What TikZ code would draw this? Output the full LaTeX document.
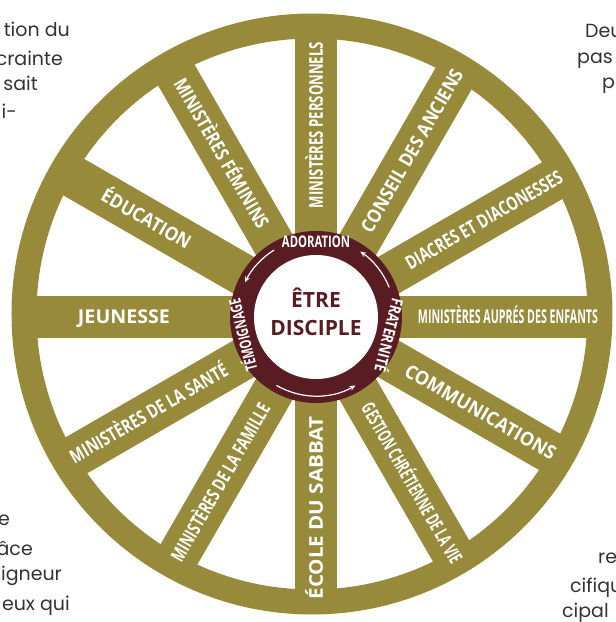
\documentclass[tikz,border=0pt]{standalone}
\usepackage{fontspec}
\usepackage{graphicx}
\usetikzlibrary{arrows.meta}
\setmainfont{Poppins}
\newfontfamily\wheelfont{Open Sans}
\definecolor{wheelgold}{HTML}{978A3B}
\definecolor{hubred}{HTML}{5A1C23}
\definecolor{pagegray}{HTML}{333333}
% white text squeezed to the length of its spoke
\newcommand{\spoketext}[2]{\resizebox{#1pt}{\height}{\wheelfont\bfseries\fontsize{19}{22}\selectfont #2}}
\newcommand{\ringtext}[2]{\resizebox{#1pt}{\height}{\wheelfont\bfseries\fontsize{16}{18}\selectfont #2}}
\begin{document}
\begin{tikzpicture}[x=1pt, y=1pt,
    spoke/.style={draw=wheelgold, line width=42pt},
    spokelabel/.style={text=white, inner sep=0pt, text height=13.6pt, text depth=0pt},
    ringlabel/.style={text=white, inner sep=0pt, text height=11.4pt, text depth=0pt},
    cyclearrow/.style={draw=white, line width=1.2pt, -{Stealth[length=6pt, width=5pt]}},
    pagetext/.style={text=pagegray, inner sep=0pt, font=\fontsize{19}{22}\selectfont}]
        \useasboundingbox (-316,-305) rectangle (300,317);

        % Rim of the wheel
        \draw[draw=wheelgold, line width=25pt] (-4,3) circle (288);

        % Spokes
        \draw[spoke] (0:285) -- (180:285);
        \draw[spoke] (30:285) -- (210:285);
        \draw[spoke] (60:285) -- (240:285);
        \draw[spoke] (90:285) -- (270:285);
        \draw[spoke] (120:285) -- (300:285);
        \draw[spoke] (150:285) -- (330:285);

        % Spoke labels
        \node[spokelabel, rotate=90] (personnels) at (90:192) {\spoketext{166}{MINISTÈRES PERSONNELS}};
        \node[spokelabel, rotate=60] (anciens) at (60:192) {\spoketext{185}{CONSEIL DES ANCIENS}};
        \node[spokelabel, rotate=30] (diacres) at (30:194) {\spoketext{178}{DIACRES ET DIACONESSES}};
        \node[spokelabel] (enfants) at (0:192) {\spoketext{180}{MINISTÈRES AUPRÉS DES ENFANTS}};
        \node[spokelabel, rotate=-30] (communications) at (-30:190) {\spoketext{171}{COMMUNICATIONS}};
        \node[spokelabel, rotate=-60] (gestion) at (-60:192) {\spoketext{182}{GESTION CHRÉTIENNE DE LA VIE}};
        \node[spokelabel, rotate=90] (sabbat) at (-90:191) {\spoketext{183}{ÉCOLE DU SABBAT}};
        \node[spokelabel, rotate=60] (famille) at (240:191) {\spoketext{179}{MINISTÈRES DE LA FAMILLE}};
        \node[spokelabel, rotate=30] (sante) at (210:193) {\spoketext{179}{MINISTÈRES DE LA SANTÉ}};
        \node[spokelabel] (jeunesse) at (180:192) {\spoketext{92}{JEUNESSE}};
        \node[spokelabel, rotate=-30] (education) at (150:196) {\spoketext{100}{ÉDUCATION}};
        \node[spokelabel, rotate=-60] (feminins) at (120:189) {\spoketext{170}{MINISTÈRES FÉMININS}};

        % Hub
        \node[circle, fill=hubred, minimum size=172pt, inner sep=0pt] (hub) at (0,0) {};
        \node[circle, fill=white, minimum size=124pt, inner sep=0pt] (core) at (0,0) {};
        \node[anchor=base, text=hubred, font=\wheelfont\bfseries\fontsize{21}{24}\selectfont] (etre) at (0,10) {ÊTRE};
        \node[anchor=base, text=hubred, font=\wheelfont\bfseries\fontsize{21}{24}\selectfont] (disciple) at (0,-18) {DISCIPLE};

        % Ring words and the cycle between them
        \node[ringlabel] (adoration) at (0,75) {\ringtext{68}{ADORATION}};
        \node[ringlabel, rotate=-104] (fraternite) at (-14:75) {\ringtext{75}{FRATERNITÉ}};
        \node[ringlabel, rotate=104] (temoignage) at (194:75) {\ringtext{74}{TÉMOIGNAGE}};
        \draw[cyclearrow] (22:79) arc (22:56:79);
        \draw[cyclearrow] (122:79) arc (122:154:79);
        \draw[cyclearrow] (240:79) arc (240:300:79);

        % Page text around the wheel
        \node[pagetext, anchor=base east] (tl1) at (-246,281) {tion du};
        \node[pagetext, anchor=base east] (tl2) at (-253,252) {crainte};
        \node[pagetext, anchor=base east] (tl3) at (-278,227) {sait};
        \node[pagetext, anchor=base east] (tl4) at (-299,199) {i-};
        \node[pagetext, anchor=base west] (tr1) at (269,280) {Deu};
        \node[pagetext, anchor=base west] (tr2) at (261,254) {pas l};
        \node[pagetext, anchor=base west] (tr3) at (286,229) {pe};
        \node[pagetext, anchor=base east] (bl1) at (-306,-208) {e};
        \node[pagetext, anchor=base east] (bl2) at (-283,-238) {âce};
        \node[pagetext, anchor=base east] (bl3) at (-254,-263) {igneur};
        \node[pagetext, anchor=base east] (bl4) at (-246,-293) {eux qui};
        \node[pagetext, anchor=base west] (br1) at (282,-246) {re};
        \node[pagetext, anchor=base west] (br2) at (254,-275) {cifique};
        \node[pagetext, anchor=base west] (br3) at (246,-300) {cipal};
\end{tikzpicture}
\end{document}
